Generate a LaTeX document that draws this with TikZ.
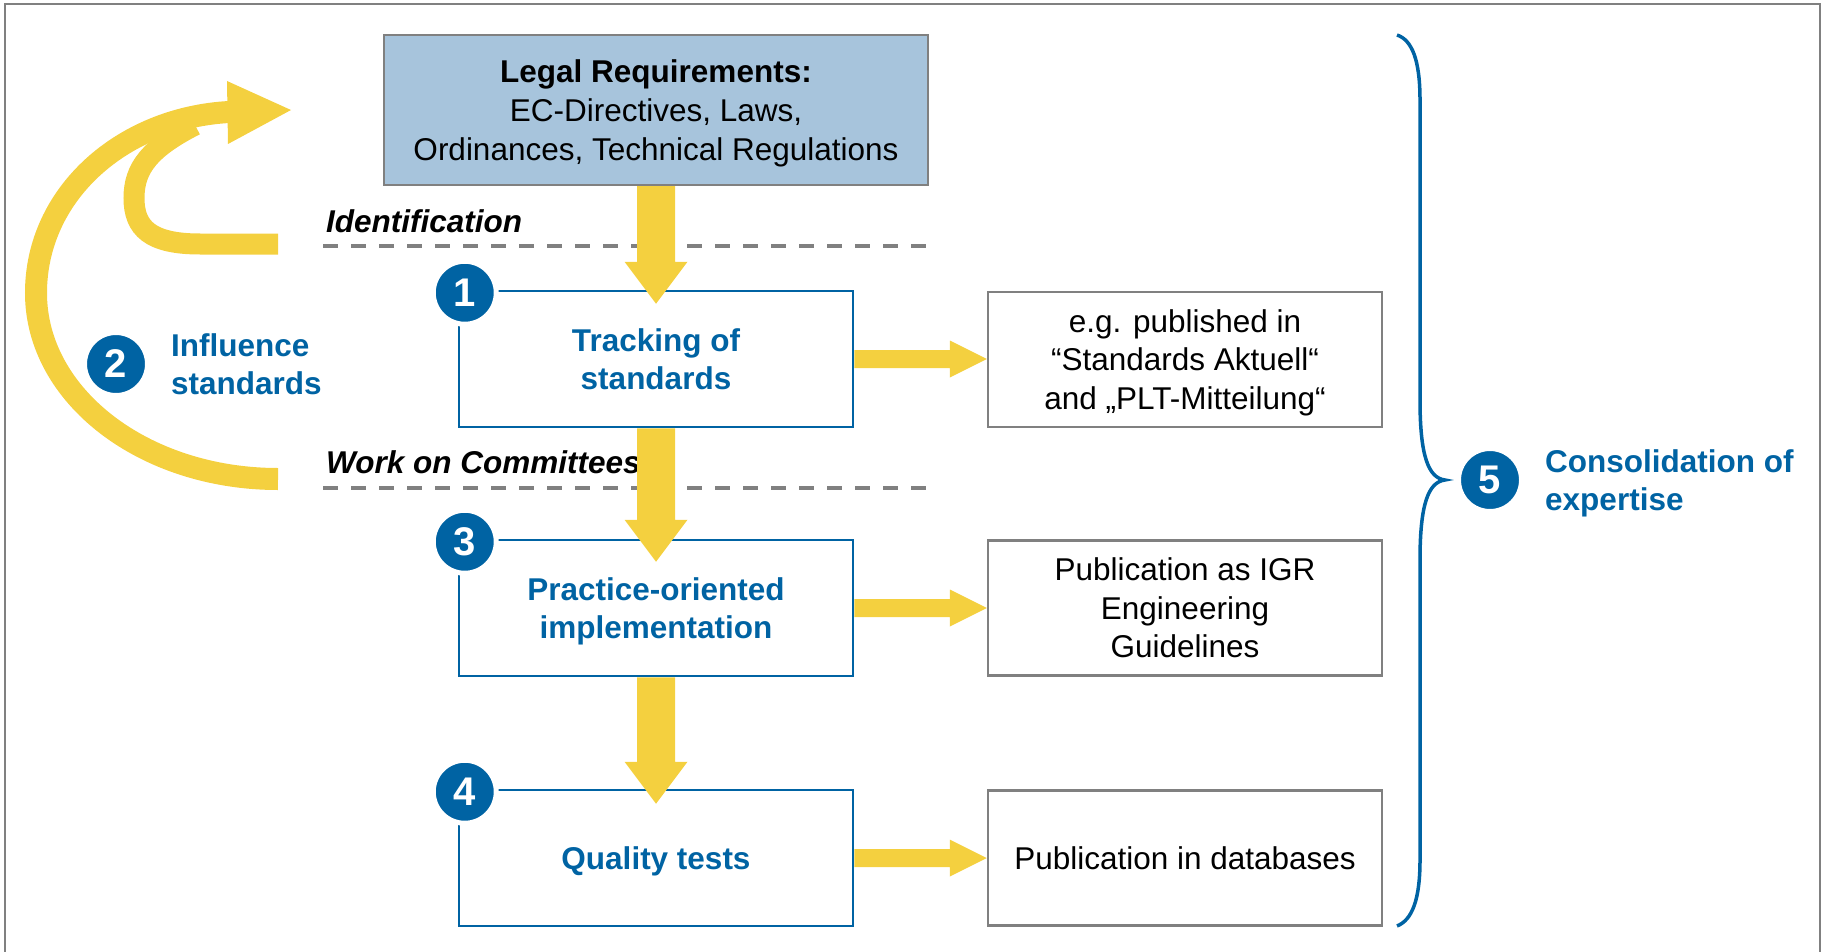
\documentclass[tikz,border=0pt]{standalone}
\usepackage{fontspec}
\setmainfont{Liberation Sans}
\usetikzlibrary{calc}
\definecolor{ibblue}{RGB}{0,99,163}
\definecolor{iblight}{RGB}{167,196,220}
\definecolor{ibyellow}{RGB}{244,208,63}
\definecolor{ibgray}{RGB}{128,128,128}
\newcommand{\ybDownArrow}[2]{%
 \fill[ibyellow] let \p1=(#1), \p2=(#2) in
 (\x1-19pt,\y1) -- (\x1-19pt,\y2+42pt) -- (\x1-31.5pt,\y2+42pt) -- (\x1,\y2) -- (\x1+31.5pt,\y2+42pt) -- (\x1+19pt,\y2+42pt) -- (\x1+19pt,\y1) -- cycle;}
\newcommand{\ybRightArrow}[2]{%
 \fill[ibyellow] let \p1=(#1), \p2=(#2) in
 (\x1,\y1+9pt) -- (\x2-37pt,\y1+9pt) -- (\x2-37pt,\y1+18.5pt) -- (\x2,\y1) -- (\x2-37pt,\y1-18.5pt) -- (\x2-37pt,\y1-9pt) -- (\x1,\y1-9pt) -- cycle;}
\tikzset{
 fs/.style={font=\fontsize{31.5}{38.5}\selectfont},
 legalbox/.style={draw=ibgray, line width=2.5pt, fill=iblight, minimum width=544pt, minimum height=150pt, align=center, inner sep=0pt, text depth=0pt, font=\fontsize{31.5}{39}\selectfont},
 stepbox/.style={draw=ibblue, line width=2.5pt, minimum width=394pt, minimum height=136pt, align=center, inner sep=0pt, text depth=0pt, text=ibblue, font=\fontsize{31.5}{38}\selectfont\bfseries},
 outbox/.style={draw=ibgray, line width=2.5pt, minimum width=394pt, minimum height=135pt, align=center, inner sep=0pt, text depth=0pt, fs},
 numcirc/.style={circle, fill=ibblue, draw=white, line width=5pt, minimum size=63pt, inner sep=0pt, text=white, font=\fontsize{40}{40}\selectfont\bfseries},
 dashline/.style={draw=ibgray, line width=4pt, dash pattern=on 15pt off 13pt},
 phase/.style={anchor=west, inner sep=0pt, font=\fontsize{31.5}{38}\selectfont\bfseries\itshape},
 bluelabel/.style={anchor=west, inner sep=0pt, align=left, text=ibblue, font=\fontsize{31.5}{38}\selectfont\bfseries},
 yband/.style={draw=ibyellow, line width=22pt},
 bracestyle/.style={draw=ibblue, line width=3.5pt},
}
\begin{document}
\begin{tikzpicture}[x=1pt,y=-1pt]
\useasboundingbox (0,0) rectangle (1825,952);
% frame
\draw[ibgray, line width=2.5pt] (5,960) -- (5,4) -- (1820,4) -- (1820,960);

% yellow curved arrows (influence)
\coordinate (ob) at (278,479);
\coordinate (ot) at (229,112);
\coordinate (ib) at (278,244);
\coordinate (it) at (195,125);
\draw[yband] (ob) .. controls (144,479) and (36,396) .. (36,293) .. controls (36,194) and (122,118) .. (ot);
\draw[yband, line width=21pt] (ib) -- (200,244) .. controls (150,244) and (134,228) .. (134,198) .. controls (134,168) and (150,148) .. (it);
\fill[ibyellow] (227,81) -- (291,110) -- (228,144) -- cycle;

% dashed separators
\coordinate (d1a) at (323,246); \coordinate (d1b) at (928,246);
\coordinate (d2a) at (323,488); \coordinate (d2b) at (928,488);
\draw[dashline] (d1a) -- (d1b);
\draw[dashline] (d2a) -- (d2b);
\node[phase] (idl) at (326,221) {Identification};
\node[phase] (wol) at (326,462) {Work on Committees};

% boxes
\node[legalbox] (legal) at (656,110) {\textbf{Legal Requirements:}\\EC-Directives, Laws,\\Ordinances, Technical Regulations};
\node[stepbox] (s1) at (656,359) {Tracking of\\standards};
\node[stepbox] (s3) at (656,608) {Practice-oriented\\implementation};
\node[stepbox] (s4) at (656,858) {Quality tests};
\node[outbox] (o1) at (1185,359.5) {e.g. published in\\“Standards Aktuell“\\and „PLT-Mitteilung“};
\node[outbox] (o3) at (1185,608) {Publication as IGR\\Engineering\\Guidelines};
\node[outbox] (o4) at (1185,858) {Publication in databases};

% yellow arrows
\ybDownArrow{legal.south}{[yshift=-14pt]s1.north}
\ybDownArrow{s1.south}{[yshift=-23pt]s3.north}
\ybDownArrow{s3.south}{[yshift=-15pt]s4.north}
\ybRightArrow{s1.east}{o1.west}
\ybRightArrow{s3.east}{o3.west}
\ybRightArrow{s4.east}{o4.west}

% numbered circles
\node[numcirc] (c1) at ([xshift=7pt,yshift=-3pt]s1.north west) {1};
\node[numcirc] (c3) at ([xshift=7pt,yshift=-3pt]s3.north west) {3};
\node[numcirc] (c4) at ([xshift=7pt,yshift=-3pt]s4.north west) {4};
\node[numcirc] (c2) at (116,364) {2};
\node[bluelabel] (l2) at (171,364) {Influence\\standards};
\node[numcirc] (c5) at (1490,480) {5};
\node[bluelabel] (l5) at (1545,483) {Consolidation of\\expertise};

% brace
\coordinate (bt) at (1397,35);
\coordinate (btip) at (1445,480);
\coordinate (bb) at (1397,926);
\draw[bracestyle] (bt) .. controls (1412,40) and (1420,60) .. (1420,100) -- (1420,400) .. controls (1420,455) and (1428,478) .. (btip) .. controls (1428,482) and (1420,505) .. (1420,560) -- (1420,860) .. controls (1420,900) and (1412,920) .. (bb);
\end{tikzpicture}
\end{document}
